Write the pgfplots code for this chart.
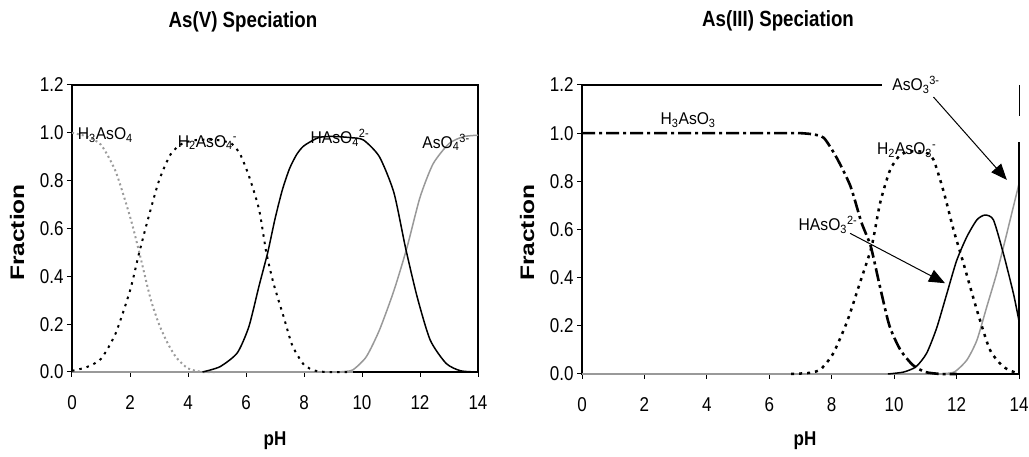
\documentclass[border=0pt]{standalone}
\usepackage{pgfplots}
\pgfplotsset{compat=1.18}
\usepackage{fontspec}
\setmainfont{Liberation Sans}[FakeStretch=0.85]
\newfontfamily\plainfont{Liberation Sans}
\newfontfamily\lblfont{Liberation Sans}[FakeStretch=0.92]
\usetikzlibrary{arrows.meta}
\definecolor{lgray}{HTML}{9C9C9C}
\definecolor{mgray}{HTML}{999999}
\pgfplotsset{
  specax/.style={
    anchor=south west, scale only axis, clip=false,
    xmin=0, xmax=14, ymin=0, ymax=1.2,
    xtick={0,2,4,6,8,10,12,14},
    ytick={0,0.2,0.4,0.6,0.8,1.0,1.2},
    xtick pos=bottom, ytick pos=left,
    tick align=outside, major tick length=5pt,
    tick style={black, line width=1pt},
    /pgf/number format/assume math mode=true,
    tick label style={font=\fontsize{20}{20}\selectfont},
    yticklabel style={/pgf/number format/fixed, /pgf/number format/fixed zerofill, /pgf/number format/precision=1},
    xticklabel style={yshift=-15pt},
  }
}
\begin{document}
\begin{tikzpicture}[x=1pt,y=1pt]
\path[use as bounding box] (0,0) rectangle (1029,457);
% titles and axis labels
\node[font=\bfseries\fontsize{22}{22}\selectfont] at (243,435) {As(V) Speciation};
\node[font=\bfseries\fontsize{22}{22}\selectfont] at (778,436) {As(III) Speciation};
\node[rotate=90, yscale=0.8, font=\plainfont\bfseries\fontsize{24.5}{24.5}\selectfont] at (17,224.5) {Fraction};
\node[rotate=90, yscale=0.8, font=\plainfont\bfseries\fontsize{24.5}{24.5}\selectfont] at (527,224.5) {Fraction};
\node[font=\bfseries\fontsize{20}{20}\selectfont] at (275,16) {pH};
\node[font=\bfseries\fontsize{20}{20}\selectfont] at (805,16) {pH};

% ---------------- As(V) ----------------
\begin{axis}[specax, at={(72pt,85pt)}, width=406pt, height=287pt,
  axis line style={black, line width=2pt}]
\addplot[mgray, line width=1.5pt] coordinates {(0,0) (9.7,0)};
\addplot[mgray, line width=1.5pt, smooth, tension=0.4] coordinates {
 (9.1,0) (9.4,0.002) (9.7,0.01) (10.15,0.064) (10.6,0.175) (11.1,0.34) (11.55,0.52) (12,0.73) (12.45,0.87) (13,0.955) (13.5,0.984) (14,0.99)};
\addplot[lgray, line width=2pt, dash pattern=on 2pt off 3pt, smooth, tension=0.4] coordinates {
 (0,1.0) (0.5,0.985) (1,0.95) (1.5,0.84) (2,0.65) (2.3,0.51) (2.7,0.31) (3,0.2) (3.3,0.12) (3.6,0.06) (4,0.015) (4.5,0) (5,0)};
\addplot[black, line width=2pt, dash pattern=on 2.5pt off 5pt, smooth, tension=0.4] coordinates {
 (0,0.005) (0.5,0.02) (1,0.055) (1.5,0.16) (2,0.34) (2.3,0.49) (2.6,0.63) (3,0.8) (3.4,0.91) (3.8,0.955) (4.3,0.97) (5,0.97) (5.5,0.955) (5.8,0.91) (6.1,0.82) (6.45,0.68) (6.7,0.5) (6.95,0.37) (7.3,0.23) (7.6,0.11) (8.0,0.03) (8.4,0.005) (8.8,0) (9.5,0)};
\addplot[black, line width=1.5pt, smooth, tension=0.4] coordinates {
 (4.5,0) (5.1,0.022) (5.7,0.08) (6.1,0.19) (6.45,0.36) (6.75,0.5) (7.0,0.64) (7.25,0.76) (7.5,0.85) (7.75,0.91) (8.0,0.946) (8.5,0.98) (9,0.985) (9.6,0.98) (10.05,0.97) (10.6,0.9) (11.1,0.75) (11.5,0.52) (11.9,0.315) (12.35,0.134) (12.9,0.036) (13.4,0.005) (14,0)};
\node[font=\lblfont\fontsize{17}{17}\selectfont] at (axis cs:1.15,0.99) {H\textsubscript{3}AsO\textsubscript{4}};
\node[font=\lblfont\fontsize{17}{17}\selectfont] at (axis cs:4.67,0.96) {H\textsubscript{2}AsO\textsubscript{4}\textsuperscript{-}};
\node[font=\lblfont\fontsize{17}{17}\selectfont] at (axis cs:9.24,0.98) {HAsO\textsubscript{4}\textsuperscript{2-}};
\node[font=\lblfont\fontsize{17}{17}\selectfont] at (axis cs:12.9,0.96) {AsO\textsubscript{4}\textsuperscript{3-}};
\end{axis}

% ---------------- As(III) ----------------
\begin{axis}[specax, at={(582pt,83pt)}, width=437pt, height=289pt,
  axis line style={draw=none}]
\draw[line width=2pt] (axis cs:0,1.2) -- (axis cs:0,0) -- (axis cs:14,0);
\draw[line width=2pt] (axis cs:0,1.2) -- (axis cs:9.6,1.2);
\draw[line width=1pt] (axis cs:14,1.2) -- (axis cs:14,1.07);
\addplot[mgray, line width=1.5pt] coordinates {(0,0) (11.95,0)};
\addplot[mgray, line width=1.5pt, smooth, tension=0.4] coordinates {
 (11.35,0) (11.65,0.002) (11.95,0.01) (12.33,0.058) (12.65,0.14) (12.97,0.28) (13.29,0.42) (13.61,0.584) (14,0.79)};
\addplot[black, line width=2.6pt, dash pattern=on 13pt off 4pt on 3pt off 4pt, smooth, tension=0.4] coordinates {
 (0,1) (5.5,1) (6,1) (6.5,1) (7,1) (7.4,0.995) (7.75,0.98) (8.15,0.9) (8.6,0.78) (8.95,0.63) (9.25,0.53) (9.55,0.36) (9.85,0.2) (10.2,0.1) (10.6,0.037) (11.0,0.008) (11.5,0) (12,0)};
\addplot[black, line width=2.5pt, dash pattern=on 3pt off 5pt, smooth, tension=0.4] coordinates {
 (6.7,0) (7.3,0.005) (7.65,0.02) (8.05,0.086) (8.5,0.22) (8.9,0.377) (9.28,0.53) (9.55,0.71) (9.87,0.847) (10.2,0.91) (10.6,0.925) (11.0,0.92) (11.26,0.89) (11.58,0.76) (11.9,0.6) (12.22,0.46) (12.65,0.266) (13.07,0.1) (13.5,0.03) (13.9,0.005)};
\addplot[black, line width=1.5pt, smooth, tension=0.4] coordinates {
 (9.8,0) (10.3,0.008) (10.7,0.03) (11.04,0.086) (11.36,0.19) (11.68,0.33) (12.0,0.47) (12.33,0.57) (12.65,0.64) (12.91,0.66) (13.18,0.64) (13.5,0.5) (13.82,0.335) (14,0.22)};
\addplot[black, line width=2.5pt] coordinates {(14,0) (14,0.965)};
\node[font=\lblfont\fontsize{17}{17}\selectfont] at (axis cs:3.4,1.055) {H\textsubscript{3}AsO\textsubscript{3}};
\node[font=\lblfont\fontsize{17}{17}\selectfont] at (axis cs:10.4,0.93) {H\textsubscript{2}AsO\textsubscript{3}\textsuperscript{-}};
\node[font=\lblfont\fontsize{17}{17}\selectfont] at (axis cs:7.88,0.62) {HAsO\textsubscript{3}\textsuperscript{2-}};
\node[font=\lblfont\fontsize{17}{17}\selectfont, fill=white, inner sep=1pt] at (axis cs:10.7,1.2) {AsO\textsubscript{3}\textsuperscript{3-}};
\draw[line width=1pt, -{Triangle[length=16pt,width=13pt]}] (axis cs:11.26,1.15) -- (axis cs:13.61,0.806);
\draw[line width=1pt, -{Triangle[length=16pt,width=13pt]}] (axis cs:8.59,0.584) -- (axis cs:11.63,0.377);
\end{axis}
\end{tikzpicture}
\end{document}
